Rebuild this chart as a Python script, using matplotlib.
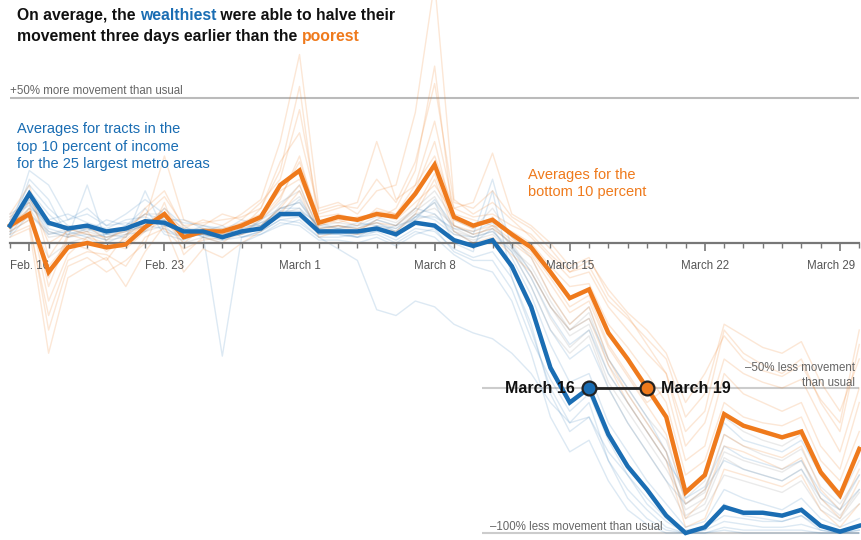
import matplotlib
matplotlib.use('Agg')
import matplotlib.pyplot as plt
from matplotlib.transforms import ScaledTranslation

plt.rcParams['font.family'] = ['Liberation Sans', 'DejaVu Sans']

BLUE = '#1a6db3'
ORANGE = '#ef7a1c'
GREY = '#777777'

# day index 0 = Feb. 15, 2020 ... 44 = March 30
days = list(range(45))
tick_days = [1, 8, 15, 22, 29, 36, 43]
tick_labels = ['Feb. 16', 'Feb. 23', 'March 1', 'March 8',
               'March 15', 'March 22', 'March 29']

# percent change in movement vs. usual, averages
top10 = [6, 17, 7, 5, 6, 4, 5, 7.5, 7, 4,
         4, 2, 4, 5, 10, 10, 4, 4, 4, 5,
         3, 7, 6, 1, -1, 1, -8, -22, -43, -55,
         -50, -66, -77, -85, -94, -100, -98, -91, -93, -93,
         -94, -92, -97.5, -99.5, -97.5]
bottom10 = [6, 10, -10, -1.5, 0, -1.5, -0.5, 5.5, 10, 2,
            4, 4, 6, 9, 20, 25, 7, 9, 8, 10,
            9, 17, 27, 9, 6, 8, 3, -1.5, -10, -19,
            -16, -31, -40, -50, -60, -86, -80, -59, -63, -65,
            -67, -65, -79, -87, -71]

# individual metro areas (faint lines)
metro_bottom = [
    [8, 14, -15, 2, 4, -3, 2, 12, 18, 5, 8, 6, 10, 15, 35, 65, 12, 14, 10, 18,
     20, 45, 90, 15, 10, 14, 8, 2, -5, -12, -10, -22, -30, -38, -45, -70, -62, -40, -45, -48,
     -50, -47, -60, -72, -50],
    [4, 8, -30, -8, -5, -10, -6, 0, 14, -4, 2, 0, 5, 12, 25, 54, 5, 6, 4, 8,
     12, 25, 61, 6, 3, 5, 0, -5, -18, -28, -22, -40, -52, -62, -72, -95, -88, -70, -72, -75,
     -78, -74, -88, -95, -82],
    [10, 20, -5, 5, 3, 2, 4, 8, 30, 8, 6, 10, 8, 14, 22, 46, 10, 12, 14, 35,
     15, 20, 42, 12, 14, 31, 10, 6, 0, -8, -5, -18, -25, -35, -45, -65, -58, -30, -38, -42,
     -45, -40, -55, -65, -35],
    [2, 5, -38, -12, -8, -5, -15, -3, 6, -10, -2, -5, 0, 4, 10, 18, 2, 4, 3, 5,
     4, 10, 22, 4, 0, 2, -4, -10, -22, -30, -26, -42, -55, -65, -75, -98, -95, -78, -80, -82,
     -84, -80, -92, -98, -90],
    [6, 12, -20, -4, 2, 0, -2, 4, 8, 0, 5, 3, 4, 8, 15, 30, 6, 8, 6, 12,
     10, 18, 35, 8, 5, 9, 2, -3, -12, -22, -18, -35, -45, -55, -50, -75, -70, -45, -52, -55,
     -58, -55, -70, -78, -55],
    [5, 9, -8, 0, -2, -6, 3, 6, 12, 4, 3, 2, 7, 10, 18, 22, 8, 7, 9, 10,
     8, 14, 20, 10, 8, 6, 4, 0, -8, -15, -14, -28, -36, -45, -55, -80, -75, -55, -60, -62,
     -63, -60, -75, -82, -65],
    [7, 11, -12, 3, 1, -2, 1, 7, 9, 3, 5, 5, 7, 9, 16, 28, 9, 10, 8, 11,
     10, 20, 30, 12, 9, 10, 6, 3, -4, -10, -8, -20, -26, -33, -40, -60, -52, -28, -32, -36,
     -38, -34, -48, -58, -40],
    [3, 6, -25, -6, -3, -4, -8, 2, 5, -2, 1, 2, 3, 6, 12, 20, 4, 6, 5, 7,
     6, 12, 24, 6, 4, 6, 1, -4, -14, -24, -20, -36, -46, -56, -66, -90, -85, -66, -70, -72,
     -74, -70, -85, -92, -78],
    [9, 16, 0, 4, 6, 1, 5, 10, 16, 6, 7, 8, 9, 12, 28, 38, 11, 13, 12, 22,
     14, 28, 55, 14, 12, 18, 9, 5, -2, -10, -6, -16, -24, -30, -38, -55, -45, -32, -40, -44,
     -46, -42, -54, -62, -30],
]
metro_top = [
    [4, 25, 20, 8, 12, 6, 10, 15, 10, 3, 6, 5, 3, 8, 12, 14, 5, 4, 2, 4,
     6, 12, 10, 4, 0, 5, -5, -18, -35, -48, -45, -62, -72, -82, -90, -98, -96, -85, -88, -90,
     -92, -88, -95, -98, -95],
    [10, 14, 4, 2, 20, 0, 3, 4, 12, 6, 2, 0, 0, 3, 6, 8, 2, -2, -6, -23,
     -25, -20, -22, -28, -31, -33, -38, -45, -55, -62, -60, -72, -80, -88, -95, -99, -98, -94, -95, -96,
     -96, -94, -98, -99, -98],
    [2, 10, 3, 4, 2, 3, 2, 18, 4, 2, 3, -39, 2, 4, 8, 9, 3, 3, 2, 6,
     2, 9, 14, 0, -3, 18, -12, -30, -50, -62, -55, -75, -85, -92, -98, -100, -99, -90, -94, -95,
     -96, -94, -99, -100, -99],
    [8, 20, 12, 6, 4, 8, 6, 10, 8, 8, 5, 4, 6, 6, 12, 12, 6, 5, 6, 7,
     4, 10, 8, 3, 2, 4, -3, -15, -30, -40, -35, -50, -62, -72, -82, -90, -85, -75, -78, -80,
     -82, -78, -88, -92, -85],
    [5, 15, 5, 3, 5, 2, 4, 6, 5, 2, 3, 1, 2, 4, 8, 7, 2, 2, 3, 4,
     1, 5, 4, -2, -5, -3, -12, -28, -52, -65, -60, -75, -88, -95, -99, -100, -100, -98, -99, -99,
     -99, -99, -100, -100, -100],
    [3, 12, 8, 10, 7, 5, 8, 9, 6, 5, 2, 3, 5, 7, 9, 15, 5, 6, 5, 8,
     6, 8, 15, 6, 3, 22, -2, -12, -25, -35, -30, -45, -55, -65, -75, -85, -80, -62, -68, -70,
     -72, -68, -80, -88, -70],
    [6, 18, 10, 4, 6, 3, 5, 8, 6, 4, 3, 2, 3, 5, 9, 10, 3, 3, 2, 3,
     0, 4, 2, -4, -8, -10, -20, -38, -60, -72, -68, -82, -92, -97, -100, -100, -100, -99, -100, -100,
     -100, -100, -100, -100, -100],
    [9, 13, 6, 8, 10, 6, 7, 5, 9, 7, 6, 4, 8, 6, 11, 11, 7, 5, 7, 6,
     5, 9, 9, 5, 4, 7, -1, -10, -22, -30, -26, -40, -50, -60, -72, -88, -84, -70, -74, -76,
     -78, -75, -86, -92, -80],
    [3, 22, 15, 2, 3, 1, 6, 12, 3, 1, 4, 6, 2, 3, 7, 6, 1, 1, 0, 2,
     -1, 3, 5, -3, -6, -6, -16, -33, -47, -58, -52, -68, -80, -90, -96, -100, -99, -96, -97, -98,
     -98, -97, -99, -100, -99],
]
metro_mid = [
    [5, 12, 2, 3, 4, 2, 3, 7, 8, 3, 4, 3, 5, 6, 12, 14, 5, 6, 5, 7,
     5, 10, 12, 6, 3, 5, 0, -10, -22, -32, -28, -45, -55, -65, -75, -92, -88, -72, -75, -77,
     -79, -75, -88, -94, -85],
    [4, 8, -5, 0, 2, -2, 0, 4, 6, 0, 2, 1, 3, 5, 10, 12, 3, 4, 3, 5,
     3, 8, 10, 3, 1, 3, -3, -15, -30, -38, -32, -50, -62, -72, -82, -95, -92, -80, -82, -84,
     -86, -82, -92, -96, -90],
    [7, 15, 6, 6, 5, 4, 5, 10, 10, 5, 5, 4, 6, 8, 14, 18, 6, 7, 6, 9,
     7, 12, 18, 8, 5, 12, 2, -5, -18, -28, -22, -40, -50, -60, -68, -88, -82, -60, -65, -68,
     -70, -66, -80, -88, -75],
    [6, 10, 4, 2, 5, 3, 4, 6, 9, 4, 3, 2, 4, 7, 11, 16, 4, 5, 4, 6,
     4, 9, 14, 5, 2, 6, -1, -12, -26, -36, -30, -48, -58, -68, -78, -90, -86, -66, -70, -73,
     -75, -71, -84, -90, -80],
    [5, 14, 3, 5, 3, 1, 2, 8, 7, 2, 3, 2, 4, 5, 13, 20, 4, 5, 4, 8,
     6, 11, 16, 4, 2, 4, -2, -8, -20, -30, -24, -42, -52, -62, -72, -94, -90, -74, -78, -80,
     -82, -78, -90, -95, -86],
]

wealthy_day = 30  # March 16
poor_day = 33     # March 19


def rainbow_text(ax, x, y, parts, **kw):
    """Draw coloured pieces of text one after another on one line."""
    t = ax.text(x, y, parts[0][0], color=parts[0][1], va='bottom',
                transform=ax.figure.transFigure, **kw)
    for s, c in parts[1:]:
        t = ax.annotate(s, xy=(1, 0), xycoords=t, color=c,
                        va='bottom', ha='left', **kw)
    return t


fig = plt.figure(figsize=(8.61, 5.40), dpi=100)
ax = fig.add_axes([0, 0, 1, 1])
ax.set_xlim(-0.518, 44.09)
ax.set_ylim(-102.4, 83.8)

for s in metro_mid:
    ax.plot(days, s, color='#999999', lw=1, alpha=0.2, zorder=1)
for s in metro_top:
    ax.plot(days, s, color=BLUE, lw=1, alpha=0.15, zorder=1)
for s in metro_bottom:
    ax.plot(days, s, color=ORANGE, lw=1, alpha=0.18, zorder=1)

# reference lines
ax.hlines(50, days[0], days[-1], color='#bbbbbb', lw=1.5, zorder=0.5)
ax.hlines([-50, -100], 24.45, days[-1], color='#cccccc', lw=1.5, zorder=0.5)

ax.plot(days, bottom10, color=ORANGE, lw=3.2, zorder=3, solid_joinstyle='miter')
ax.plot(days, top10, color=BLUE, lw=3.2, zorder=3, solid_joinstyle='miter')

# March 16 -> March 19 connector
ax.plot([wealthy_day, poor_day], [top10[wealthy_day], bottom10[poor_day]],
        color='#222222', lw=2, zorder=4)
ax.plot(wealthy_day, top10[wealthy_day], 'o', ms=10, mfc=BLUE, mec='#222222',
        mew=1.6, zorder=5)
ax.plot(poor_day, bottom10[poor_day], 'o', ms=10, mfc=ORANGE, mec='#222222',
        mew=1.6, zorder=5)
ax.annotate('March 16', xy=(wealthy_day, top10[wealthy_day]), xytext=(-10, 0),
            textcoords='offset points', ha='right', va='center',
            fontsize=11.5, fontweight='bold', color='#111111', zorder=5)
ax.annotate('March 19', xy=(poor_day, bottom10[poor_day]), xytext=(10, 0),
            textcoords='offset points', ha='left', va='center',
            fontsize=11.5, fontweight='bold', color='#111111', zorder=5)

# axis at zero
for side in ['top', 'right', 'left']:
    ax.spines[side].set_visible(False)
ax.spines['bottom'].set_position(('data', 0))
ax.spines['bottom'].set_bounds(days[0], days[-1])
ax.spines['bottom'].set_color(GREY)
ax.spines['bottom'].set_linewidth(1.6)
ax.set_xticks(tick_days)
ax.set_xticklabels(tick_labels)
ax.set_xticks(days, minor=True)
ax.tick_params(axis='x', which='major', length=6, width=1.2, color=GREY,
               labelsize=8.3, labelcolor='#555555', pad=6.5)
ax.tick_params(axis='x', which='minor', length=3.5, width=1.0, color=GREY)
ax.set_yticks([])
# keep the last date label inside the figure
last = ax.get_xticklabels()[-1]
last.set_transform(last.get_transform()
                   + ScaledTranslation(-9 / 100, 0, fig.dpi_scale_trans))

# labels (va='baseline' sits on the last line of multi-line text)
ax.text(0, 51.4, '+50% more movement than usual', fontsize=8.3,
        color='#666666', va='baseline', ha='left')
ax.text(43.78, -49.2, '\u201350% less movement\nthan usual', fontsize=8.3,
        color='#666666', va='baseline', ha='right', linespacing=1.25)
ax.text(24.87, -99.0, '\u2013100% less movement than usual', fontsize=8.3,
        color='#666666', va='baseline', ha='left')

ax.text(0.36, 25.9, 'Averages for tracts in the\ntop 10 percent of income\n'
        'for the 25 largest metro areas', fontsize=10.5, color=BLUE,
        va='baseline', ha='left', linespacing=1.3)
ax.text(26.84, 16.2, 'Averages for the\nbottom 10 percent', fontsize=10.5,
        color=ORANGE, va='baseline', ha='left', linespacing=1.3)

# title
rainbow_text(ax, 0.0197, 0.9565,
             [('On average, the ', '#111111'), ('wealthiest', BLUE),
              (' were able to halve their', '#111111')],
             fontsize=11.3, fontweight='bold')
rainbow_text(ax, 0.0197, 0.9176,
             [('movement three days earlier than the ', '#111111'),
              ('poorest', ORANGE)],
             fontsize=11.3, fontweight='bold')

fig.savefig('out.png', dpi=100, facecolor='white')
